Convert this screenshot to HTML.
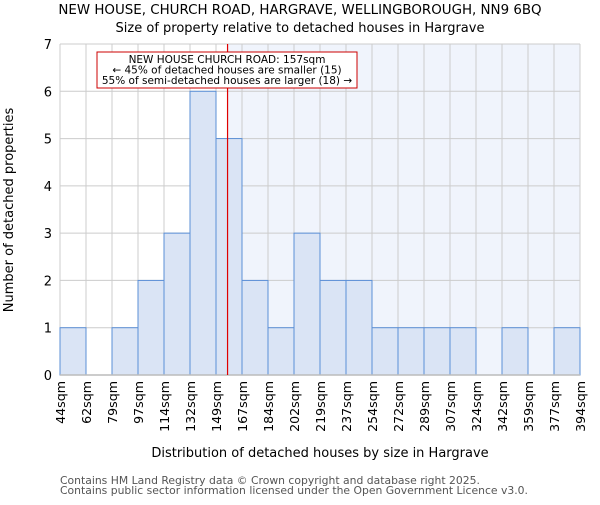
<!DOCTYPE html>
<html><head><meta charset="utf-8"><style>body{margin:0;background:#fff}svg{font-family:"DejaVu Sans","Liberation Sans",sans-serif}</style></head>
<body>
<svg id="chart" width="600" height="500" xmlns="http://www.w3.org/2000/svg">
<text x="300" y="14" text-anchor="middle" font-size="13.4">NEW HOUSE, CHURCH ROAD, HARGRAVE, WELLINGBOROUGH, NN9 6BQ</text>
<text x="300" y="32" text-anchor="middle" font-size="13">Size of property relative to detached houses in Hargrave</text>
<g id="plot"></g>
<text x="320" y="457" text-anchor="middle" font-size="13">Distribution of detached houses by size in Hargrave</text>
<text transform="translate(13,210) rotate(-90)" text-anchor="middle" font-size="13">Number of detached properties</text>
<text x="60" y="484" font-size="10.8" fill="#555">Contains HM Land Registry data © Crown copyright and database right 2025.</text>
<text x="60" y="494" font-size="10.8" fill="#555">Contains public sector information licensed under the Open Government Licence v3.0.</text>
</svg>
<script>
const binEdges=[44,62,79,97,114,132,149,167,184,202,219,237,254,272,289,307,324,342,359,377,394];
const counts=[1,0,1,2,3,6,5,2,1,3,2,2,1,1,1,1,0,1,0,1];
const yTicks=[0,1,2,3,4,5,6,7];
const subjectSize=157;
const NS="http://www.w3.org/2000/svg";
const L=60,R=580,T=44,B=375,yMax=7;
const nb=counts.length;
function xIdx(i){return L+i*(R-L)/nb;}
function xVal(v){
  for(let i=0;i<nb;i++){if(v<=binEdges[i+1]){return xIdx(i)+(v-binEdges[i])/(binEdges[i+1]-binEdges[i])*(R-L)/nb;}}
  return R;}
function y(v){return B-v/yMax*(B-T);}
const g=document.getElementById('plot');
function mk(t,a,p){const e=document.createElementNS(NS,t);for(const k in a)e.setAttribute(k,a[k]);(p||g).appendChild(e);return e;}
const sx=xVal(subjectSize);
let bg=mk('rect',{x:sx,y:T,width:R-sx,height:B-T,fill:'#f0f4fc'});


for(let i=0;i<=nb;i++){let l=mk('line',{x1:xIdx(i),x2:xIdx(i),y1:T,y2:B,stroke:'#ccc','stroke-width':1});

}
yTicks.forEach(v=>{let l=mk('line',{x1:L,x2:R,y1:y(v),y2:y(v),stroke:'#ccc','stroke-width':1});


let t=mk('text',{x:L-8,y:y(v)+5,'text-anchor':'end','font-size':13});t.textContent=v;

});
counts.forEach((c,i)=>{if(c<=0)return;let r=mk('rect',{x:xIdx(i),y:y(c),width:(R-L)/nb,height:B-y(c),fill:'#dae4f5',stroke:'#5b8fd6','stroke-width':1});

});
binEdges.forEach((e,i)=>{let t=mk('text',{transform:`translate(${xIdx(i)+5},381) rotate(-90)`,'text-anchor':'end','font-size':12.6});t.textContent=e+'sqm';

});
let ax=mk('line',{x1:L,x2:R,y1:B,y2:B,stroke:'#bbb','stroke-width':1.5});


let rl=mk('line',{x1:sx,x2:sx,y1:T,y2:B,stroke:'#e00000','stroke-width':1.2});


let box=mk('rect',{x:97,y:52,width:260,height:36,fill:'#fff',stroke:'#c00','stroke-width':1});


['NEW HOUSE CHURCH ROAD: 157sqm','← 45% of detached houses are smaller (15)','55% of semi-detached houses are larger (18) →'].forEach((s,i)=>{
let t=mk('text',{x:227,y:63+i*10.5,'text-anchor':'middle','font-size':10.5});t.textContent=s;

});
</script>
</body></html>
